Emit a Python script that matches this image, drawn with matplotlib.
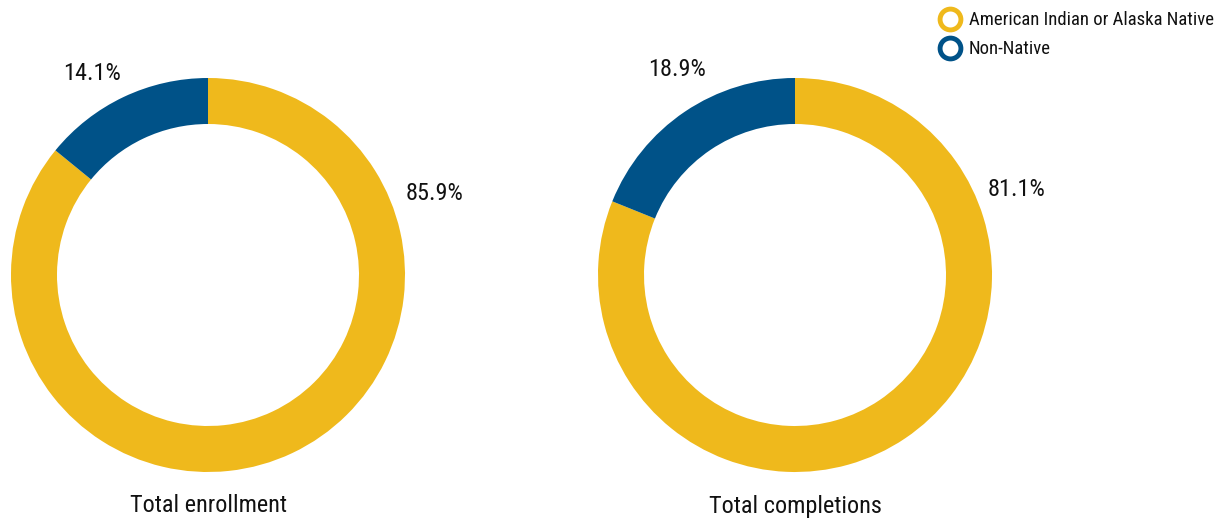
import matplotlib
matplotlib.use("Agg")
import matplotlib.pyplot as plt
from matplotlib.lines import Line2D
from matplotlib import font_manager

names = {f.name for f in font_manager.fontManager.ttflist}
family = [n for n in ["Roboto Condensed", "Liberation Sans Narrow", "DejaVu Sans"] if n in names]
plt.rcParams['font.family'] = family

categories = ["American Indian or Alaska Native", "Non-Native"]
colors = ["#EFB91C", "#005288"]
enrollment = [85.9, 14.1]
completions = [81.1, 18.9]
titles = ["Total enrollment", "Total completions"]

W, H = 1225, 523
fig = plt.figure(figsize=(W / 100, H / 100), dpi=100)
ax = fig.add_axes([0, 0, 1, 1])

R = 197
width = 46
centers = [(208, H - 275), (795, H - 275)]

for (cx, cy), vals, title in zip(centers, [enrollment, completions], titles):
    ax.pie(vals, colors=colors, startangle=90, counterclock=False,
           center=(cx, cy), radius=R, frame=True,
           wedgeprops=dict(width=width, linewidth=0))
    ax.text(cx, H - 506, title, ha='center', va='center', fontsize=17.5, color='#111111')

# percentage labels
ax.text(435, H - 193, f"{enrollment[0]}%", ha='center', va='center', fontsize=17.5, color='#111111')
ax.text(92, H - 73, f"{enrollment[1]}%", ha='center', va='center', fontsize=17.5, color='#111111')
ax.text(1017, H - 190, f"{completions[0]}%", ha='center', va='center', fontsize=17.5, color='#111111')
ax.text(677, H - 70, f"{completions[1]}%", ha='center', va='center', fontsize=17.5, color='#111111')

ax.set_xlim(0, W)
ax.set_ylim(0, H)
ax.set_aspect('equal')
ax.axis('off')

handles = [Line2D([], [], linestyle='none', marker='o', markersize=15,
                  markerfacecolor='white', markeredgecolor=c, markeredgewidth=3.5)
           for c in colors]
leg = fig.legend(handles, categories, loc='upper right', bbox_to_anchor=(1.0, 1.0),
                 frameon=False, fontsize=13.5, handletextpad=0.3, labelspacing=0.6,
                 borderaxespad=0.2, handlelength=1.4)
for t in leg.get_texts():
    t.set_color('#111111')

fig.savefig("out.png", dpi=100)
